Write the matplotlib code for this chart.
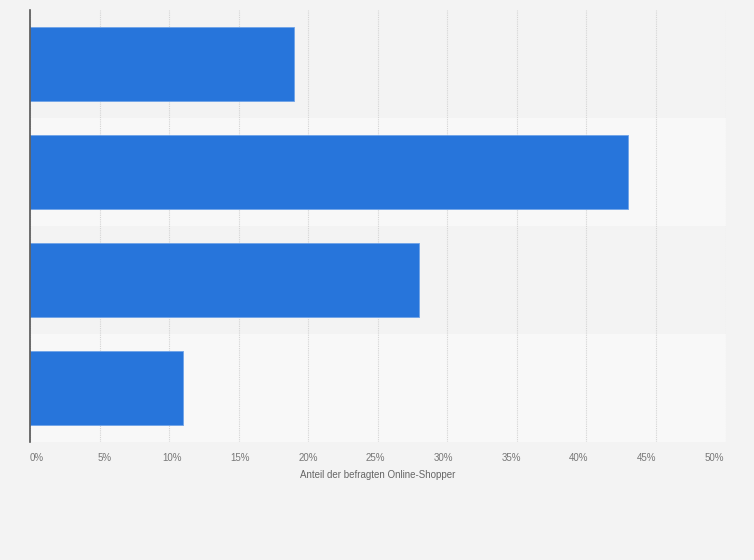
import matplotlib.pyplot as plt
import matplotlib.transforms as mtransforms
import numpy as np

plt.rcParams['font.family'] = ['Liberation Sans', 'DejaVu Sans']

# answer options are unlabeled in the source image
values = [19, 43, 28, 11]
x_ticks = [0, 5, 10, 15, 20, 25, 30, 35, 40, 45, 50]
tick_labels = [f"{t}%" for t in x_ticks]
x_label = "Anteil der befragten Online-Shopper"

W, H = 754, 560
fig = plt.figure(figsize=(W / 100, H / 100), dpi=100)
fig.patch.set_facecolor('#f3f3f3')
ax = fig.add_axes([30 / W, (H - 442) / H, (725.5 - 30) / W, (442 - 10) / H])
ax.set_facecolor('#f3f3f3')

n = len(values)
y = np.arange(n)
# alternating row bands
for i in y:
    ax.axhspan(i - 0.5, i + 0.5, color='#f3f3f3' if i % 2 == 0 else '#f8f8f8', zorder=0, lw=0)

ax.barh(y, values, height=0.685, color='#2775db', edgecolor='#6fa3e8', linewidth=0.6, zorder=3)

ax.set_xlim(0, 50)
ax.set_ylim(n - 0.5, -0.5)
ax.set_xticks(x_ticks)
ax.set_xticklabels(tick_labels, fontsize=7, color='#777777')
ax.set_yticks([])
ax.tick_params(axis='x', length=0, pad=8)
ax.xaxis.grid(True, color='#d4d4d4', linestyle=(0, (1, 1)), linewidth=0.8, zorder=1)
ax.set_axisbelow(True)

# labels are squeezed slightly inward, like the original (offsets in pixels)
nl = len(x_ticks)
for i, lab in enumerate(ax.get_xticklabels()):
    dx = (7 - 18 * i / (nl - 1)) / 100
    lab.set_transform(lab.get_transform() + mtransforms.ScaledTranslation(dx, 0, fig.dpi_scale_trans))

for s in ['top', 'right', 'bottom']:
    ax.spines[s].set_visible(False)
ax.spines['left'].set_color('#555555')
ax.spines['left'].set_linewidth(1.2)
ax.spines['left'].set_zorder(4)

ax.set_xlabel(x_label, fontsize=7, color='#666666', labelpad=5)

fig.savefig('out.png', dpi=100, facecolor=fig.get_facecolor())
